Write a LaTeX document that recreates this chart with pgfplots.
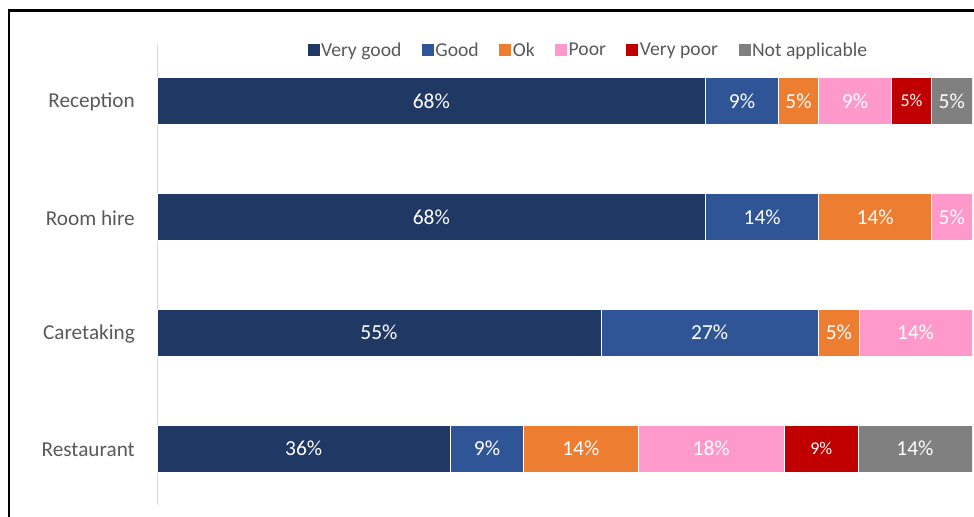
\documentclass[border=0pt]{standalone}
\usepackage{fontspec}
\setmainfont{Carlito}
\usepackage{pgfplots}
\pgfplotsset{compat=1.18}
\definecolor{cVG}{HTML}{203864}
\definecolor{cG}{HTML}{2F5597}
\definecolor{cOk}{HTML}{ED7D31}
\definecolor{cPoor}{HTML}{FF99CC}
\definecolor{cVP}{HTML}{C00000}
\definecolor{cNA}{HTML}{808080}
\definecolor{lab}{HTML}{595959}
\pgfplotsset{
  chartbox/.style={
    at={(157bp,12bp)}, anchor=south west,
    scale only axis, width=815bp, height=461bp,
    xmin=0, xmax=100,
    ymin=-0.49, ymax=3.485, y dir=reverse,
  },
}
\begin{document}
\begin{tikzpicture}
\path[use as bounding box] (0,0) rectangle (974bp,517bp);
% 100% stacked: rounded percentages normalised by each row's sum
\begin{axis}[
  chartbox,
  xbar stacked, bar width=0.4,
  axis x line=none,
  axis y line*=left,
  y axis line style={draw=black!15, line width=0.8bp},
  ytick={0,1,2,3},
  yticklabels={Reception,Room hire,Caretaking,Restaurant},
  major tick length=0pt,
  yticklabel style={font=\fontsize{21.3}{25}\selectfont, text=lab, inner sep=0pt, xshift=-22bp, yshift=-1.5bp},
  legend columns=6,
  legend style={draw=none, fill=none, at={(0.529,0.987)}, anchor=center, font=\fontsize{19.7}{23}\selectfont, text=lab, nodes={inner sep=1.5bp}, /tikz/every even column/.append style={column sep=19bp}},
  legend image code/.code={\fill[#1,draw=none] (0bp,-6bp) rectangle (12bp,6bp);},
]
\addplot[fill=cVG, draw=white, line width=0.6bp] coordinates {(67.33,0) (67.33,1) (54.46,2) (36,3)};
\addplot[fill=cG, draw=white, line width=0.6bp] coordinates {(8.91,0) (13.86,1) (26.73,2) (9,3)};
\addplot[fill=cOk, draw=white, line width=0.6bp] coordinates {(4.95,0) (13.86,1) (4.95,2) (14,3)};
\addplot[fill=cPoor, draw=white, line width=0.6bp] coordinates {(8.91,0) (4.95,1) (13.86,2) (18,3)};
\addplot[fill=cVP, draw=white, line width=0.6bp] coordinates {(4.95,0) (0,1) (0,2) (9,3)};
\addplot[fill=cNA, draw=white, line width=0.6bp] coordinates {(4.95,0) (0,1) (0,2) (14,3)};
\legend{Very good,Good,Ok,Poor,Very poor,Not applicable}
\end{axis}
\begin{axis}[
  chartbox,
  axis lines=none, ticks=none,
  point meta=explicit symbolic,
  nodes near coords,
  every node near coord/.style={anchor=center, text=white, font=\fontsize{21.5}{25}\selectfont},
]
\addplot[draw=none, mark=none] coordinates {
  (33.66,0)[68\%] (71.78,0)[9\%] (78.71,0)[5\%] (85.64,0)[9\%] (97.52,0)[5\%]
  (33.66,1)[68\%] (74.26,1)[14\%] (88.12,1)[14\%] (97.52,1)[5\%]
  (27.23,2)[55\%] (67.82,2)[27\%] (83.66,2)[5\%] (93.07,2)[14\%]
  (18,3)[36\%] (40.5,3)[9\%] (52,3)[14\%] (68,3)[18\%] (93,3)[14\%]
};
\addplot[draw=none, mark=none, every node near coord/.append style={font=\fontsize{18}{21}\selectfont}] coordinates {
  (92.57,0)[5\%] (81.5,3)[9\%]
};
\end{axis}
\draw[line width=2.5bp] (8.75bp,-5bp) -- (8.75bp,506.5bp) -- (990bp,506.5bp);
\end{tikzpicture}
\end{document}
